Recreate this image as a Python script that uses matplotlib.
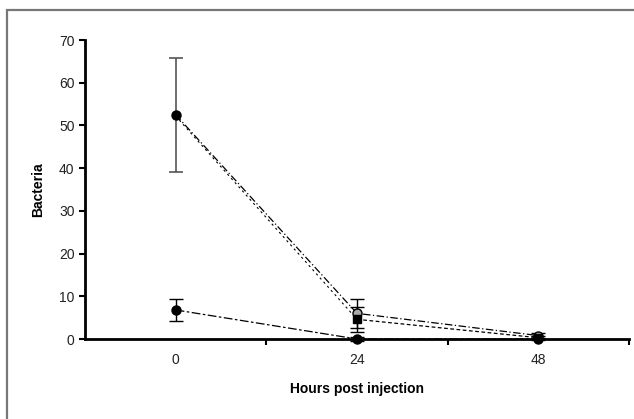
import matplotlib
matplotlib.use("Agg")
import matplotlib.pyplot as plt
import numpy as np
from matplotlib.patches import Rectangle

plt.rcParams["font.family"] = ["Liberation Sans", "DejaVu Sans"]

hours = ["0", "24", "48"]

# upper group (two nearly overlapping series)
s1_mean = [52.5, 6.0, 0.8]
s1_err = [13.3, 3.4, 0.7]
s2_mean = [52.2, 4.6, 0.3]
s2_err = [0.0, 3.0, 0.4]
# lower group
s3_mean = [6.8, 0.0, 0.0]
s3_err = [2.6, 0.4, 0.3]

fig = plt.figure(figsize=(6.34, 4.19), dpi=100)
fig.patches.append(Rectangle((7 / 634, -0.05), 1.1, 1 - 10 / 419 + 0.05,
                             transform=fig.transFigure, fill=False,
                             edgecolor="#777777", linewidth=1.6))
ax = fig.add_axes((85 / 634, 80 / 419, 544 / 634, 299 / 419))

x = np.arange(len(hours))

ax.errorbar(x[:1], s1_mean[:1], yerr=s1_err[:1], color="black", ecolor="#555555",
            elinewidth=1.2, capsize=5, capthick=1.2, linestyle="none",
            marker="o", markersize=6.5, markerfacecolor="black",
            markeredgecolor="black", zorder=3)
ax.errorbar(x[1:], s1_mean[1:], yerr=s1_err[1:], color="black", ecolor="black",
            elinewidth=1.0, capsize=5, capthick=1.0, linestyle="none",
            marker="o", markersize=6.5, markerfacecolor="#aaaaaa",
            markeredgecolor="black", zorder=3)
ax.plot(x, s1_mean, color="black", linestyle=(0, (6, 2, 1, 2)), linewidth=0.9, zorder=2)
ax.errorbar(x[1:], s2_mean[1:], yerr=s2_err[1:], color="black", ecolor="black",
            elinewidth=1.0, capsize=5, capthick=1.0, linestyle=(0, (3, 2)),
            linewidth=0.9, marker="s", markersize=6, markerfacecolor="black",
            markeredgecolor="black", zorder=3)
ax.plot(x[:2], s2_mean[:2], color="black", linestyle=(0, (2, 3)), linewidth=0.8, zorder=2)
ax.errorbar(x, s3_mean, yerr=s3_err, color="black", ecolor="black",
            elinewidth=1.0, capsize=5, capthick=1.0, linestyle=(0, (7, 2, 2, 2)),
            linewidth=0.9, marker="o", markersize=6.5, markerfacecolor="black",
            markeredgecolor="black", zorder=3, clip_on=False)

ax.set_xlim(-0.5, len(hours) - 0.5)
ax.set_ylim(0, 70)
ax.set_yticks(np.arange(0, 71, 10))
ax.set_xticks(np.arange(len(hours)) + 0.5)
ax.set_xticklabels([])
ax.set_xticks(x, minor=True)
ax.set_xticklabels(hours, minor=True)
ax.tick_params(axis="x", which="major", direction="out", length=4, width=1.5)
ax.tick_params(axis="x", which="minor", length=0, pad=10, labelsize=10, labelcolor="#222222")
ax.tick_params(axis="y", direction="out", length=4, width=1.5, labelsize=10, labelcolor="#222222")

for side in ["top", "right"]:
    ax.spines[side].set_visible(False)
for side in ["left", "bottom"]:
    ax.spines[side].set_linewidth(2)

ax.set_ylabel("Bacteria", fontsize=10, fontweight="bold", labelpad=10)
ax.set_xlabel("Hours post injection", fontsize=10, fontweight="bold", labelpad=11)

fig.savefig("out.png", dpi=100)
